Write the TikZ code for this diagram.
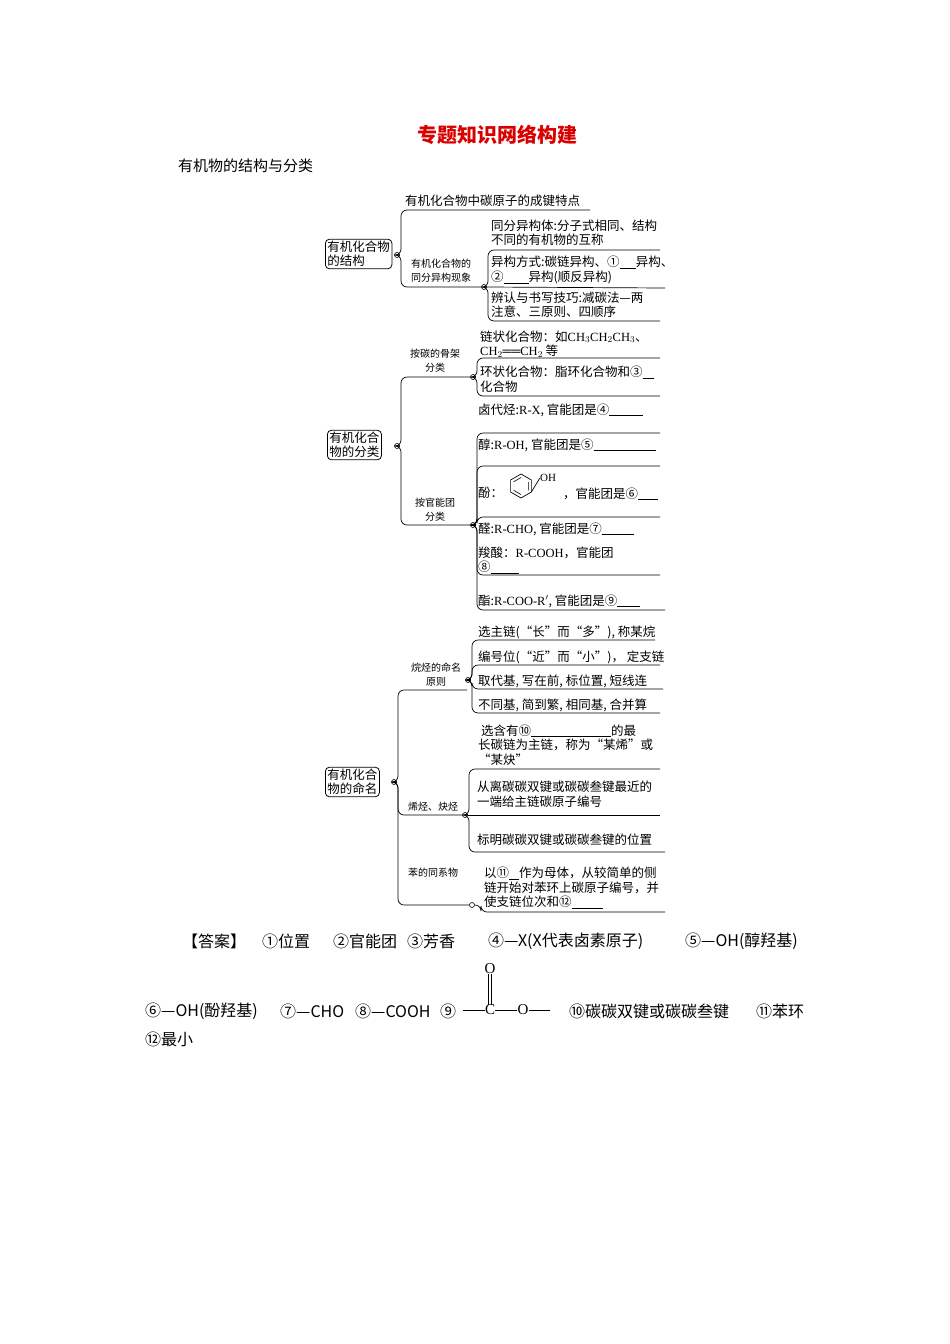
\documentclass[tikz,border=0pt]{standalone}
\usepackage{fontspec}
\setmainfont{Noto Sans CJK SC}
\newfontfamily\lat{Liberation Serif}
\begin{document}
\begin{tikzpicture}[x=1pt,y=-1pt,
  t/.style={anchor=west,inner sep=0pt,align=left,font=\fontsize{12.5}{14.5}\selectfont},
  s/.style={inner sep=0pt,align=center,font=\fontsize{10}{14}\selectfont},
  box/.style={draw,rounded corners=4pt,line width=0.8pt,inner sep=2pt,align=left,font=\fontsize{12.5}{14}\selectfont},
  dot/.style={circle,draw,fill=white,inner sep=0pt,minimum size=5pt,line width=0.6pt},
  br/.style={line width=0.7pt,rounded corners=6pt},
  ans/.style={anchor=west,inner sep=0pt,font=\fontsize{16}{17}\selectfont}]
\useasboundingbox (0,0) rectangle (950,1344);
\node[inner sep=0pt,text=red!85!black,font=\fontsize{20}{22}\selectfont\bfseries] (title) at (497,135) {专题知识网络构建};
\node[anchor=west,inner sep=0pt,font=\fontsize{15}{17}\selectfont] (sub) at (178,166) {有机物的结构与分类};

% ===== section 1 =====
\node[box,anchor=west] (r1) at (325,254) {有机化合物\\的结构};
\node[dot] (d1) at (397,255) {};
\node[t] (a1) at (405,201) {有机化合物中碳原子的成键特点};
\node[s] (a2) at (441,271) {有机化合物的\\同分异构现象};
\node[dot] (d2) at (484,287) {};
\draw[br] (d1.east) -| (401,210) -- (590,210);
\draw[br] (d1.east) -| (401,287) -- (d2.west);
\node[t] (b1) at (491,233) {同分异构体:分子式相同、结构\\不同的有机物的互称};
\node[t] (b2) at (491,270) {异构方式:碳链异构、①\underline{\hspace{1.3em}}异构、\\②\underline{\hspace{2em}}异构(顺反异构)};
\node[t] (b3) at (491,305) {辨认与书写技巧:减碳法—两\\注意、三原则、四顺序};
\draw[br] (d2.east) -| (488,250) -- (660,250);
\draw[br] (d2.east) -- (665,288);
\draw[br] (d2.east) -| (488,321) -- (660,321);

% ===== section 2 =====
\node[box,anchor=west] (r2) at (327,445) {有机化合\\物的分类};
\node[dot] (d3) at (397,446) {};
\node[s] (c1) at (435,361) {按碳的骨架\\分类};
\node[s] (c2) at (435,510) {按官能团\\分类};
\node[dot] (d4) at (473,377) {};
\node[dot] (d5) at (473,525) {};
\draw[br] (d3.east) -| (401,377) -- (d4.west);
\draw[br] (d3.east) -| (401,525) -- (d5.west);
\node[t] (e1) at (480,344) {链状化合物：如{\lat CH$_3$CH$_2$CH$_3$}、\\{\lat CH$_2$══CH$_2$} 等};
\node[t] (e2) at (480,379) {环状化合物：脂环化合物和③\underline{\hspace{0.9em}}\\化合物};
\draw[br] (d4.east) -| (477,358) -- (660,358);
\draw[br] (d4.east) -| (477,396) -- (660,396);
\node[t] (f0) at (478,410) {卤代烃:{\lat R-X}, 官能团是④\underline{\hspace{2.7em}}};
\node[t] (f1) at (478,445) {醇:{\lat R-OH}, 官能团是⑤\underline{\hspace{5em}}};
\node[t] (f2) at (478,493) {酚：};
\node[inner sep=0pt,minimum size=1pt] (ring) at (521,486) {};
\draw[line width=0.7pt] (ring)+(90:12) -- +(30:12) -- +(-30:12) -- +(-90:12) -- +(-150:12) -- +(150:12) -- cycle;
\draw[line width=0.6pt] (ring)+(150:8.5) -- +(90:8.5) (ring)+(30:8.5) -- +(-30:8.5) (ring)+(-90:8.5) -- +(-150:8.5);
\node[inner sep=0pt,font=\lat\fontsize{11}{12}\selectfont] (oh) at (548,478) {OH};
\draw[line width=0.7pt] (ring)+(30:12) -- (oh.west);
\node[t] (f2b) at (563,494) {，官能团是⑥\underline{\hspace{1.6em}}};
\node[t] (f3) at (478,529) {醛:{\lat R-CHO}, 官能团是⑦\underline{\hspace{2.6em}}};
\node[t] (f4) at (478,560) {羧酸：{\lat R-COOH}，官能团\\⑧\underline{\hspace{2.3em}}};
\node[t] (f5) at (478,601) {酯:{\lat R-COO-R$'$}, 官能团是⑨\underline{\hspace{1.8em}}};
\draw[br] (d5.east) -| (477,433) -- (660,433);
\draw[br] (d5.east) -| (477,466) -- (660,466);
\draw[br] (d5.east) -| (477,517) -- (660,517);
\draw[br] (d5.east) -| (477,575) -- (660,575);
\draw[br] (d5.east) -| (477,610) -- (665,610);

% ===== section 3 =====
\node[box,anchor=west] (r3) at (325,782) {有机化合\\物的命名};
\node[dot] (d6) at (394,782) {};
\node[s] (g1) at (436,675) {烷烃的命名\\原则};
\node[s] (g2) at (433,807) {烯烃、炔烃};
\node[s] (g3) at (433,873) {苯的同系物};
\node[dot] (d7) at (468,680) {};
\node[dot] (d8) at (465,815) {};
\node[dot] (d9) at (472,905) {};
\draw[br] (d6.east) -| (398,690) -- (467,690);
\draw[br] (d6.east) -| (398,815) -- (d8.west);
\draw[br] (d6.east) -| (398,905) -- (d9.west);
\node[t] (h1) at (478,632) {选主链(“长”而“多”), 称某烷};
\node[t] (h2) at (478,657) {编号位(“近”而“小”)，\ 定支链};
\node[t] (h3) at (478,681) {取代基, 写在前, 标位置, 短线连};
\node[t] (h4) at (478,705) {不同基, 简到繁, 相同基, 合并算};
\draw[br] (d7.east) -| (472,640) -- (655,640);
\draw[br] (d7.east) -| (472,665) -- (660,665);
\draw[br] (d7.east) -| (472,689) -- (663,689);
\draw[br] (d7.east) -| (472,713) -- (660,713);
\node[t] (k1) at (478,745) {\ 选含有⑩\underline{\hspace{6.4em}}的最\\长碳链为主链，称为“某烯”或\\ “某炔”};
\node[t] (k2) at (477,794) {从离碳碳双键或碳碳叁键最近的\\一端给主链碳原子编号};
\node[t] (k3) at (477,840) {标明碳碳双键或碳碳叁键的位置};
\draw[br] (d8.east) -| (469,769) -- (660,769);
\draw[br] (d8.east) -- (660,815);
\draw[br] (d8.east) -| (469,852) -- (665,852);
\node[t] (m1) at (484,888) {以⑪\underline{\hspace{0.8em}}作为母体，从较简单的侧\\链开始对苯环上碳原子编号，并\\使支链位次和⑫\underline{\hspace{2.5em}}};
\draw[br] (d9.east) -| (481,912) -- (665,912);

% ===== answers =====
\node[ans] (x0) at (182,941) {【答案】};
\node[ans] (x1) at (262,941) {①位置};
\node[ans] (x2) at (333,941) {②官能团};
\node[ans] (x3) at (407,941) {③芳香};
\node[ans] (x4) at (488,941) {④—X(X代表卤素原子)};
\node[ans] (x5) at (685,941) {⑤—OH(醇羟基)};
\node[ans] (y1) at (145,1011) {⑥—OH(酚羟基)};
\node[ans] (y2) at (280,1011) {⑦—CHO};
\node[ans] (y3) at (355,1011) {⑧—COOH};
\node[ans] (y4) at (440,1011) {⑨};
\node[inner sep=0pt,font=\lat\fontsize{15}{16}\selectfont] (cc) at (490,1010) {C};
\node[inner sep=0pt,font=\lat\fontsize{15}{16}\selectfont] (co) at (523,1010) {O};
\node[inner sep=0pt,font=\lat\fontsize{15}{16}\selectfont] (cu) at (490,969) {O};
\coordinate (lft) at (463,1010);
\coordinate (rgt) at (550,1010);
\draw[line width=0.6pt] (lft) -- (cc.west) (cc.east) -- (co.west) (co.east) -- (rgt);
\draw[line width=0.6pt] ([xshift=-1.5pt]cu.south) -- ([xshift=-1.5pt]cc.north) ([xshift=1.5pt]cu.south) -- ([xshift=1.5pt]cc.north);
\node[ans] (y5) at (569,1011) {⑩碳碳双键或碳碳叁键};
\node[ans] (y6) at (756,1011) {⑪苯环};
\node[ans] (z1) at (145,1039) {⑫最小};
\end{tikzpicture}
\end{document}
